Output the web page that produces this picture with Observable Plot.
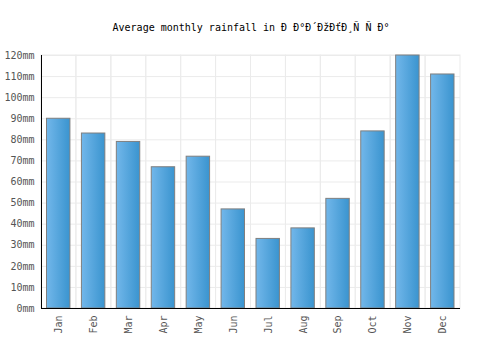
<!DOCTYPE html>
<html>
<head>
<meta charset="utf-8">
<script src="https://cdn.jsdelivr.net/npm/d3@7"></script>
<script src="https://cdn.jsdelivr.net/npm/@observablehq/plot@0.6"></script>
<style>
  html, body { margin: 0; padding: 0; background: #fff; }
</style>
</head>
<body>
<div id="chart"></div>
<script>
const titleText = "Average monthly rainfall in Ð Ð°Ð´ÐžÐťÐ¸Ñ Ñ Ð°";
const months = ["Jan","Feb","Mar","Apr","May","Jun","Jul","Aug","Sep","Oct","Nov","Dec"];
const rainfall = [90, 83, 79, 67, 72, 47, 33, 38, 52, 84, 120, 111];
const yTicks = [0,10,20,30,40,50,60,70,80,90,100,110,120];

const data = months.map((m, i) => ({month: m, value: rainfall[i]}));
const font = "DejaVu Sans Mono, monospace";

const chart = Plot.plot({
  width: 500,
  height: 350,
  marginLeft: 41,
  marginRight: 40,
  marginTop: 55,
  marginBottom: 42,
  style: {fontFamily: font, fontSize: "10px", background: "#fff"},
  x: {domain: months, padding: 0, round: false, label: null},
  y: {domain: [0, 120], label: null},
  marks: [
    Plot.gridY(yTicks, {stroke: "#ebebeb", strokeOpacity: 1}),
    Plot.cell(months, {x: d => d, fill: "none", stroke: "#ebebeb", inset: 0}),
    () => {
      const ns = "http://www.w3.org/2000/svg";
      const defs = document.createElementNS(ns, "defs");
      defs.innerHTML = `<linearGradient id="barGrad" x1="0" x2="1" y1="0" y2="0">
        <stop offset="0%" stop-color="#72b7ea"/>
        <stop offset="100%" stop-color="#3a94cf"/>
      </linearGradient>`;
      return defs;
    },
    Plot.barY(data, {x: "month", y: "value", fill: "url(#barGrad)", stroke: "#7f7f7f", strokeWidth: 1, insetLeft: 5.5, insetRight: 6}),
    Plot.ruleY([0], {stroke: "#000"}),
    Plot.frame({anchor: "left", stroke: "#000"}),
    Plot.axisY(yTicks, {tickSize: 0, tickPadding: 7, tickFormat: d => d + "mm", fill: "#555", fontSize: 10, fontFamily: font}),
    Plot.axisX({tickSize: 0, tickPadding: 7, tickRotate: -90, fill: "#555", fontSize: 10, fontFamily: font}),
    Plot.text([titleText], {frameAnchor: "top", dy: -32, fontSize: 10, fill: "#000", fontFamily: font})
  ]
});

document.getElementById("chart").appendChild(chart);
</script>
</body>
</html>
